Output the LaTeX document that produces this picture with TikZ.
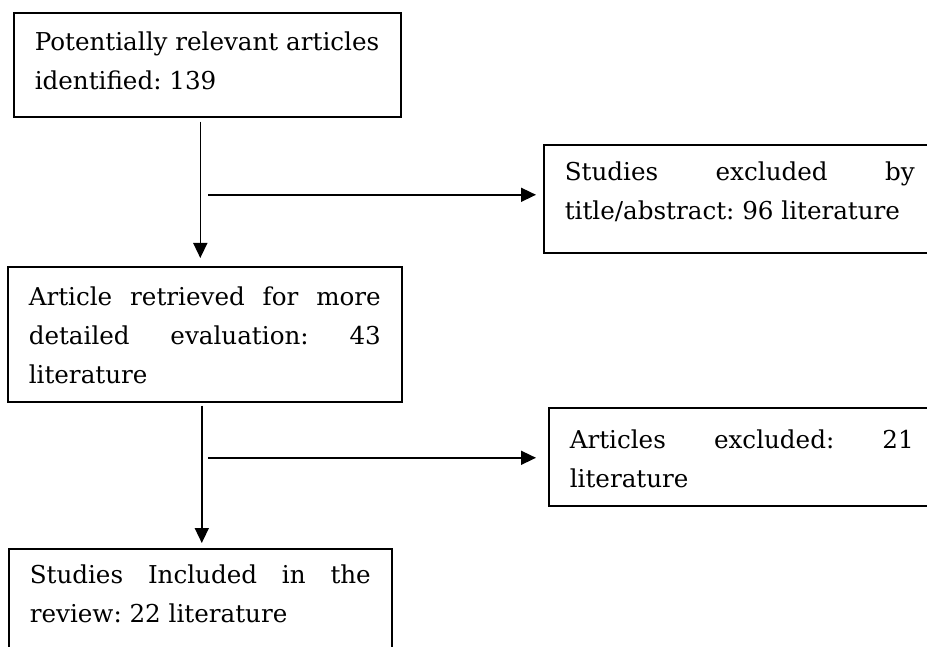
\documentclass[tikz,border=0pt]{standalone}
\usepackage{fontspec}
\setmainfont{DejaVu Serif}
\usetikzlibrary{arrows.meta, positioning, calc}

\begin{document}
\begin{tikzpicture}[x=1pt, y=-1pt, >={Triangle[length=15pt,width=14pt]},
    box/.style={draw, line width=1.6pt, anchor=north west, inner xsep=21pt,
      inner ysep=0pt, align=justify, font=\fontsize{24.6}{39}\selectfont\frenchspacing},
    flow/.style={->, line width=1.6pt}]
    \useasboundingbox (0,0) rectangle (927,647);

    % Main column
    \node [box, text width=345pt, text height=38pt, text depth=66pt] (ident) at (13,12)
        {Potentially relevant articles\\identified: 139};
    \node [box, text width=352pt, text height=39pt, text depth=96pt] (retr) at (7,266)
        {Article retrieved for more\linebreak detailed evaluation: 43\linebreak literature};
    \node [box, text width=341pt, text height=35pt, text depth=72pt] (incl) at (8,548)
        {Studies Included in the\linebreak review: 22 literature};

    % Exclusions
    \node [box, text width=350pt, text height=36pt, text depth=72pt] (excl1) at (543,144)
        {Studies excluded by\linebreak title/abstract: 96 literature};
    \node [box, text width=344pt, text height=41pt, text depth=57pt] (excl2) at (548,407)
        {Articles excluded: 21\linebreak literature};

    % Connections
    \coordinate (fork1) at ($(ident.south |- excl1.west)+(-7,-4)$);
    \coordinate (fork2) at ($(retr.south |- excl2.west)+(-3,1)$);

    \draw [flow, shorten <=4pt, shorten >=8pt] (ident.south -| fork1) -- (retr.north -| fork1);
    \draw [flow, shorten <=8pt, shorten >=7pt] (fork1) -- (fork1 -| excl1.west);
    \draw [flow, shorten <=3pt, shorten >=5pt] (retr.south -| fork2) -- (incl.north -| fork2);
    \draw [flow, shorten <=6pt, shorten >=12pt] (fork2) -- (fork2 -| excl2.west);

\end{tikzpicture}
\end{document}
